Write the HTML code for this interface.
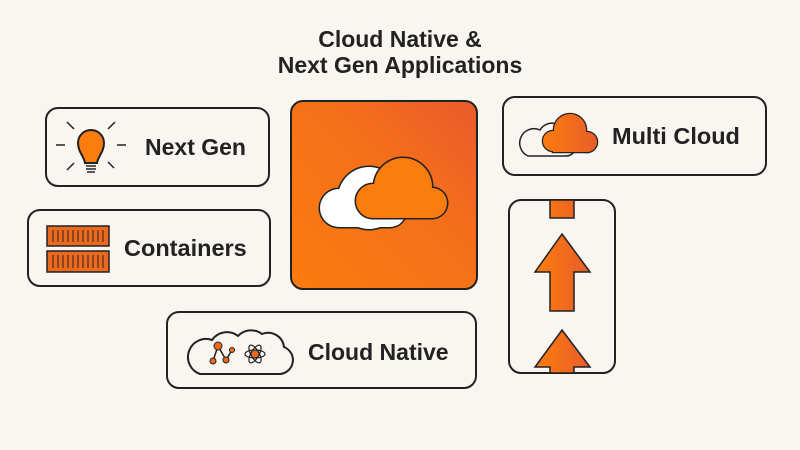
<!DOCTYPE html>
<html><head><meta charset="utf-8"><style>
body{margin:0;background:#f9f5f1;}
svg{display:block}
text{font-family:"Liberation Sans",sans-serif;font-weight:bold;fill:#222;}
</style></head><body>
<svg width="800" height="450" viewBox="0 0 800 450">
<defs>
<linearGradient id="g" x1="0" y1="1" x2="1" y2="0"><stop offset="0" stop-color="#fb7c0f"/><stop offset="0.6" stop-color="#f56f1a"/><stop offset="1" stop-color="#e95a2c"/></linearGradient>
<linearGradient id="h1" gradientUnits="userSpaceOnUse" x1="540" y1="0" x2="598" y2="0"><stop offset="0" stop-color="#fd7d0c"/><stop offset="1" stop-color="#e85c2a"/></linearGradient>
<linearGradient id="h2" gradientUnits="userSpaceOnUse" x1="535" y1="0" x2="590" y2="0"><stop offset="0" stop-color="#fd7d0c"/><stop offset="1" stop-color="#e85c2a"/></linearGradient>
</defs>
<rect width="800" height="450" fill="#f9f5f1"/>
<text x="400" y="47" font-size="23" text-anchor="middle">Cloud Native &amp;</text>
<text x="400" y="73" font-size="23" text-anchor="middle">Next Gen Applications</text>

<g fill="#f9f5f1" stroke="#222" stroke-width="2">
<rect x="46" y="108" width="223" height="78" rx="12"/>
<rect x="28" y="210" width="242" height="76" rx="12"/>
<rect x="167" y="312" width="309" height="76" rx="12"/>
<rect x="503" y="97" width="263" height="78" rx="12"/>
<rect x="509" y="200" width="106" height="173" rx="12"/>
</g>
<rect x="291" y="101" width="186" height="188" rx="12" fill="url(#g)" stroke="#222" stroke-width="2"/>

<!-- center clouds -->
<g stroke="#222" stroke-width="3" fill="#fff">
<circle cx="339" cy="208" r="19"/><circle cx="369" cy="198" r="31"/><circle cx="390" cy="211" r="16"/><rect x="339" y="205" width="51" height="22"/>
</g>
<g fill="#fff"><circle cx="339" cy="208" r="19"/><circle cx="369" cy="198" r="31"/><circle cx="390" cy="211" r="16"/><rect x="339" y="205" width="51" height="22"/></g>
<g stroke="#222" stroke-width="3" fill="#fb7c0f">
<circle cx="373" cy="201" r="17"/><circle cx="403" cy="187" r="29"/><circle cx="432" cy="203" r="15"/><rect x="373" y="198" width="59" height="20"/>
</g>
<g fill="#fb7c0f"><circle cx="373" cy="201" r="17"/><circle cx="403" cy="187" r="29"/><circle cx="432" cy="203" r="15"/><rect x="373" y="198" width="59" height="20"/></g>

<!-- labels -->
<text x="145" y="155" font-size="23">Next Gen</text>
<text x="124" y="256" font-size="23.5">Containers</text>
<text x="308" y="360" font-size="23">Cloud Native</text>
<text x="612" y="144" font-size="23.5">Multi Cloud</text>

<!-- lightbulb -->
<g stroke="#222" stroke-width="1.5" fill="none">
<line x1="56" y1="145" x2="65" y2="145"/><line x1="117" y1="145" x2="126" y2="145"/>
<line x1="67" y1="122" x2="74" y2="129"/><line x1="115" y1="122" x2="108" y2="129"/>
<line x1="67" y1="170" x2="74" y2="163"/><line x1="108" y1="162" x2="114" y2="168"/>
</g>
<path d="M85,163 C84,156 78,152 78,143 A13,13 0 0 1 104,143 C104,152 98,156 97,163 Z" fill="#fb7c0f" stroke="#222" stroke-width="2"/>
<g stroke="#222" stroke-width="1.5"><line x1="86" y1="166" x2="96" y2="166"/><line x1="86" y1="169" x2="96" y2="169"/><line x1="87" y1="172" x2="95" y2="172"/></g>

<!-- containers -->
<g fill="#ec6a1e" stroke="#222" stroke-width="1.5"><rect x="47" y="226" width="62" height="20"/><rect x="47" y="251" width="62" height="21"/></g>
<g stroke="#222" stroke-width="1">
<path d="M53,230v12M58,230v12M63,230v12M68,230v12M73,230v12M78,230v12M83,230v12M88,230v12M93,230v12M98,230v12M103,230v12"/>
<path d="M53,255v13M58,255v13M63,255v13M68,255v13M73,255v13M78,255v13M83,255v13M88,255v13M93,255v13M98,255v13M103,255v13"/>
</g>

<!-- cloud native icon -->
<path d="M200,374 H280 A14,14 0 0 0 284,347 A16,16 0 0 0 262,334 A18,18 0 0 0 238,336 A18,18 0 0 0 212,340 A17,17 0 0 0 200,374 Z" fill="none" stroke="#222" stroke-width="2"/>
<g stroke="#222" stroke-width="1.5" fill="none"><path d="M213,361 L218,346 L226,360 L232,350"/></g>
<g fill="#ec6a1e" stroke="#222" stroke-width="1"><circle cx="218" cy="346" r="4"/><circle cx="213" cy="361" r="3"/><circle cx="226" cy="360" r="3"/><circle cx="232" cy="350" r="2.5"/></g>
<g stroke="#222" stroke-width="1.2" fill="none"><ellipse cx="255" cy="354" rx="10" ry="4"/><ellipse cx="255" cy="354" rx="10" ry="4" transform="rotate(60 255 354)"/><ellipse cx="255" cy="354" rx="10" ry="4" transform="rotate(-60 255 354)"/></g>
<circle cx="255" cy="354" r="4" fill="#ec6a1e" stroke="#222"/>

<!-- multi cloud icon -->
<path d="M528,156 H566 A10,10 0 0 0 566,136 A14,14 0 0 0 540,130 A11,11 0 0 0 528,156 Z" fill="none" stroke="#222" stroke-width="1.5"/>
<g stroke="#222" stroke-width="2.5" fill="url(#h1)"><circle cx="553" cy="141" r="10"/><circle cx="570" cy="130" r="16"/><circle cx="587" cy="142" r="10"/><rect x="553" y="138" width="34" height="14"/></g>
<g fill="url(#h1)"><circle cx="553" cy="141" r="10"/><circle cx="570" cy="130" r="16"/><circle cx="587" cy="142" r="10"/><rect x="553" y="138" width="34" height="14"/></g>

<!-- arrows -->
<g fill="url(#h2)" stroke="#222" stroke-width="1.5">
<rect x="550" y="200" width="24" height="18"/>
<path d="M562,234 L590,272 L574,272 L574,311 L550,311 L550,272 L535,272 Z"/>
<path d="M562,330 L590,367 L574,367 L574,373 L550,373 L550,367 L535,367 Z"/>
</g>
</svg>
</body></html>
